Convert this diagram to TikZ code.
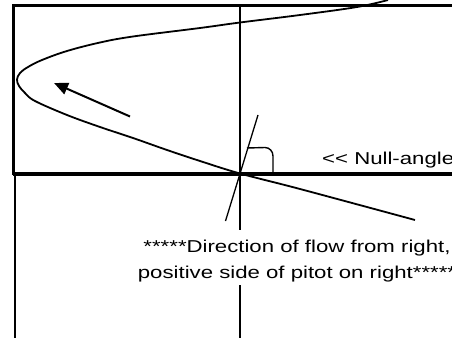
\documentclass[tikz,border=0pt]{standalone}
\usepackage{fontspec}
\newfontfamily\labfont[FakeStretch=1.29]{Liberation Sans}
\usetikzlibrary{arrows.meta}
\begin{document}
\begin{tikzpicture}[x=1pt,y=-1pt,
  frame/.style={line width=2.8pt},
  axisline/.style={line width=3.4pt},
  guide/.style={line width=1.5pt},
  curve/.style={line width=1.8pt, line join=round},
  lab/.style={font=\labfont\fontsize{17.2}{26}\selectfont, inner sep=0pt}]
\useasboundingbox (0,0) rectangle (452,337);
\fill[white] (0,0) rectangle (452,337);
\clip (0,0) rectangle (452,337);
% named points
\coordinate (O) at (240,174);
\coordinate (TL) at (13.5,5.5);
\coordinate (TR) at (453,5.5);
\coordinate (AL) at (13,174);
\coordinate (AR) at (453,174);
% frame
\draw[frame] (TR) -- (TL) -- (13.5,175);
\draw[line width=2.2pt] (15,175) -- (15,338);
% axes
\draw[axisline] (AL) -- (AR);
\draw[guide] (240,5) -- (240,230);
\draw[guide] (240,285) -- (240,338);
% parabola
\draw[curve] plot[smooth, tension=0.6] coordinates {
 (388,0) (357,7) (300,15) (240,22.5) (200,28) (133,36.5) (100,42.5) (67,51) (42,60) (28,67) (20,73) (17,79.5)
 (19,86) (25,93) (35,101) (67,115) (100,127) (133,138) (167,150) (200,161) (240,173.5) (300,189) (415,220)};
% flow arrow
\coordinate (A1) at (130,116.5);
\coordinate (A2) at (54,83);
\draw[line width=2pt, -{Triangle[length=14pt,width=12pt]}] (A1) -- (A2);
% pitot line
\coordinate (P1) at (258,115);
\coordinate (P2) at (225.5,221);
\draw[line width=1.3pt] (P1) -- (P2);
% angle mark
\draw[line width=1.4pt] (247,148) -- (265,147.5) to[out=0,in=90] (273,156) -- (273,173);
% labels
\node[lab, anchor=base west] (nul) at (322,164) {<{}< Null-angle};
\node[lab, anchor=base] (dir1) at (297,252) {*****Direction of flow from right,};
\node[lab, anchor=base] (dir2) at (297,278) {positive side of pitot on right*****};
\end{tikzpicture}
\end{document}
